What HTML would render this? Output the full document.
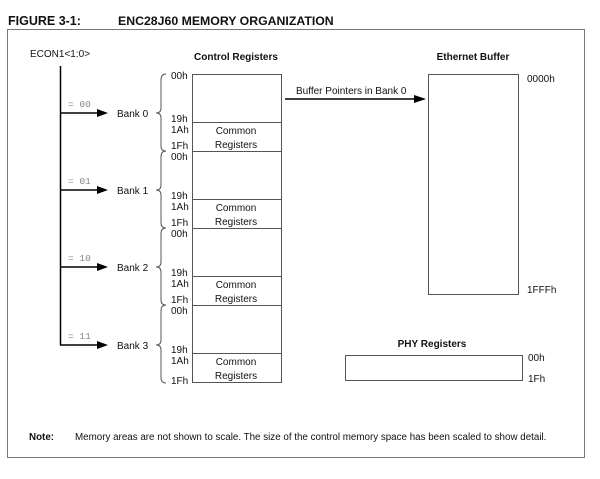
<!DOCTYPE html>
<html><head><style>
body{margin:0;background:#fff;width:600px;height:474px;overflow:hidden}
svg text{font-family:"Liberation Sans",Arial,sans-serif;font-size:10px;fill:#111}
</style></head><body>
<svg width="600" height="474" viewBox="0 0 600 474" xmlns="http://www.w3.org/2000/svg">
<text x="8" y="25" style="font-size:12.5px;font-weight:bold">FIGURE 3-1:</text>
<text x="118" y="25" style="font-size:12.3px;font-weight:bold">ENC28J60 MEMORY ORGANIZATION</text>
<rect x="7.5" y="29.5" width="577" height="428" fill="none" stroke="#777" stroke-width="1"/>
<text x="30" y="57">ECON1&lt;1:0&gt;</text>
<line x1="60.5" y1="66" x2="60.5" y2="345" stroke="#000" stroke-width="1.5"/>
<g stroke="#000" stroke-width="1.5">
<line x1="60" y1="113" x2="98" y2="113"/><line x1="60" y1="190" x2="98" y2="190"/>
<line x1="60" y1="267" x2="98" y2="267"/><line x1="60" y1="345" x2="98" y2="345"/>
<line x1="285" y1="99" x2="416" y2="99"/>
</g>
<g fill="#000">
<polygon points="97,109 108,113 97,117"/><polygon points="97,186 108,190 97,194"/>
<polygon points="97,263 108,267 97,271"/><polygon points="97,341 108,345 97,349"/>
<polygon points="414,95 426,99 414,103"/>
</g>
<text x="68" y="107" style="font-family:'Liberation Mono',monospace;font-size:9.5px;fill:#888">= 00</text>
<text x="68" y="184" style="font-family:'Liberation Mono',monospace;font-size:9.5px;fill:#888">= 01</text>
<text x="68" y="261" style="font-family:'Liberation Mono',monospace;font-size:9.5px;fill:#888">= 10</text>
<text x="68" y="339" style="font-family:'Liberation Mono',monospace;font-size:9.5px;fill:#888">= 11</text>
<text x="117" y="117">Bank 0</text><text x="117" y="194">Bank 1</text>
<text x="117" y="271">Bank 2</text><text x="117" y="349">Bank 3</text>
<text x="236" y="60" text-anchor="middle" style="font-weight:bold">Control Registers</text>
<g fill="none" stroke="#555" stroke-width="1">
<rect x="192.5" y="74.5" width="89" height="308"/>
<line x1="192" y1="122.5" x2="281" y2="122.5"/><line x1="192" y1="151.5" x2="281" y2="151.5"/>
<line x1="192" y1="199.5" x2="281" y2="199.5"/><line x1="192" y1="228.5" x2="281" y2="228.5"/>
<line x1="192" y1="276.5" x2="281" y2="276.5"/><line x1="192" y1="305.5" x2="281" y2="305.5"/>
<line x1="192" y1="353.5" x2="281" y2="353.5"/>
<rect x="428.5" y="74.5" width="90" height="220"/>
<rect x="345.5" y="355.5" width="177" height="25"/>
</g>
<g fill="none" stroke="#555" stroke-width="1">
<path d="M166,74 Q161,74 161,80 L161,108 Q161,113 156,113 Q161,113 161,118 L161,146 Q161,151 166,151"/>
<path d="M166,151 Q161,151 161,157 L161,185 Q161,190 156,190 Q161,190 161,195 L161,223 Q161,228 166,228"/>
<path d="M166,228 Q161,228 161,234 L161,262 Q161,267 156,267 Q161,267 161,272 L161,300 Q161,305 166,305"/>
<path d="M166,305 Q161,305 161,311 L161,340 Q161,345 156,345 Q161,345 161,350 L161,377 Q161,383 166,383"/>
</g>
<g>
<text x="171" y="79">00h</text><text x="171" y="122">19h</text><text x="171" y="133">1Ah</text><text x="171" y="149">1Fh</text>
<text x="171" y="160">00h</text><text x="171" y="199">19h</text><text x="171" y="210">1Ah</text><text x="171" y="226">1Fh</text>
<text x="171" y="237">00h</text><text x="171" y="276">19h</text><text x="171" y="287">1Ah</text><text x="171" y="303">1Fh</text>
<text x="171" y="314">00h</text><text x="171" y="353">19h</text><text x="171" y="364">1Ah</text><text x="171" y="384">1Fh</text>
</g>
<g text-anchor="middle">
<text x="236" y="134">Common</text><text x="236" y="148">Registers</text>
<text x="236" y="211">Common</text><text x="236" y="225">Registers</text>
<text x="236" y="288">Common</text><text x="236" y="302">Registers</text>
<text x="236" y="365">Common</text><text x="236" y="379">Registers</text>
</g>
<text x="296" y="94">Buffer Pointers in Bank 0</text>
<text x="473" y="60" text-anchor="middle" style="font-weight:bold">Ethernet Buffer</text>
<text x="527" y="82">0000h</text><text x="527" y="293">1FFFh</text>
<text x="432" y="347" text-anchor="middle" style="font-weight:bold">PHY Registers</text>
<text x="528" y="361">00h</text><text x="528" y="382">1Fh</text>
<text x="29" y="440" style="font-size:9.8px;font-weight:bold">Note:</text>
<text x="75" y="440" style="font-size:9.8px">Memory areas are not shown to scale. The size of the control memory space has been scaled to show detail.</text>
</svg>
</body></html>
